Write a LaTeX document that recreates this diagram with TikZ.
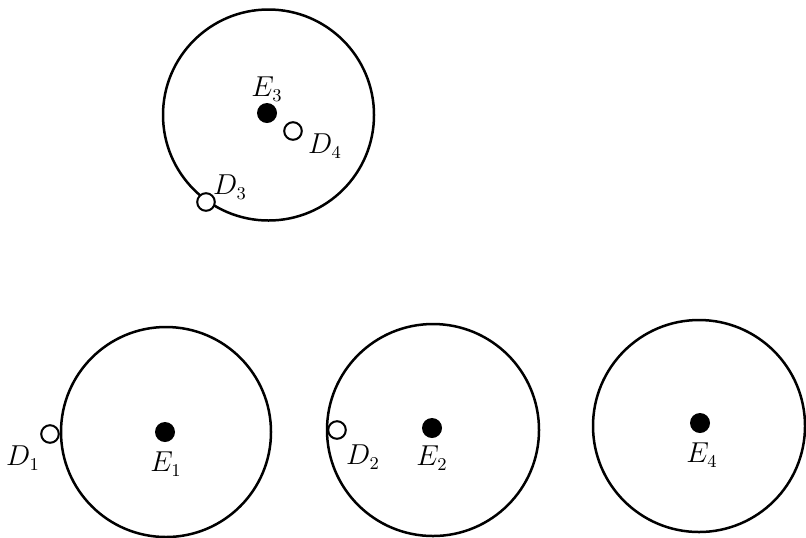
\documentclass[tikz,border=0pt]{standalone}
\begin{document}
\begin{tikzpicture}[x=0.5pt,y=-0.5pt,
  bigcirc/.style={circle,draw,line width=1.25pt,inner sep=0pt,minimum size=105.5pt},
  dot/.style={circle,fill=black,inner sep=0pt,minimum size=10pt},
  hole/.style={circle,draw,line width=1pt,fill=white,inner sep=0pt,minimum size=8.8pt},
  lab/.style={inner sep=0pt,font=\fontsize{13.5}{16}\selectfont}]
\useasboundingbox (0,0) rectangle (806,537);
% circles
\node[bigcirc,minimum size=105.5pt] (C3) at (268.5,115) {};
\node[bigcirc,minimum size=105pt] (C1) at (166,432) {};
\node[bigcirc,minimum size=106pt] (C2) at (433,430) {};
\node[bigcirc,minimum size=106pt] (C4) at (699,426) {};
% centres
\node[dot] (E3) at (267,113) {};
\node[dot] (E1) at (165,432) {};
\node[dot] (E2) at (432,428) {};
\node[dot] (E4) at (700,423) {};
% holes
\node[hole] (D4) at (293,131) {};
\node[hole] (D3) at (206,202) {};
\node[hole] (D1) at (50,434) {};
\node[hole] (D2) at (337,430) {};
% labels
\node[lab] (lE3) at (267,89) {$E_3$};
\node[lab] (lD4) at (325,146) {$D_4$};
\node[lab] (lD3) at (230,187) {$D_3$};
\node[lab] (lD1) at (23,458) {$D_1$};
\node[lab] (lE1) at (166,464) {$E_1$};
\node[lab] (lD2) at (363,457) {$D_2$};
\node[lab] (lE2) at (432,458) {$E_2$};
\node[lab] (lE4) at (702,455) {$E_4$};
\end{tikzpicture}
\end{document}
